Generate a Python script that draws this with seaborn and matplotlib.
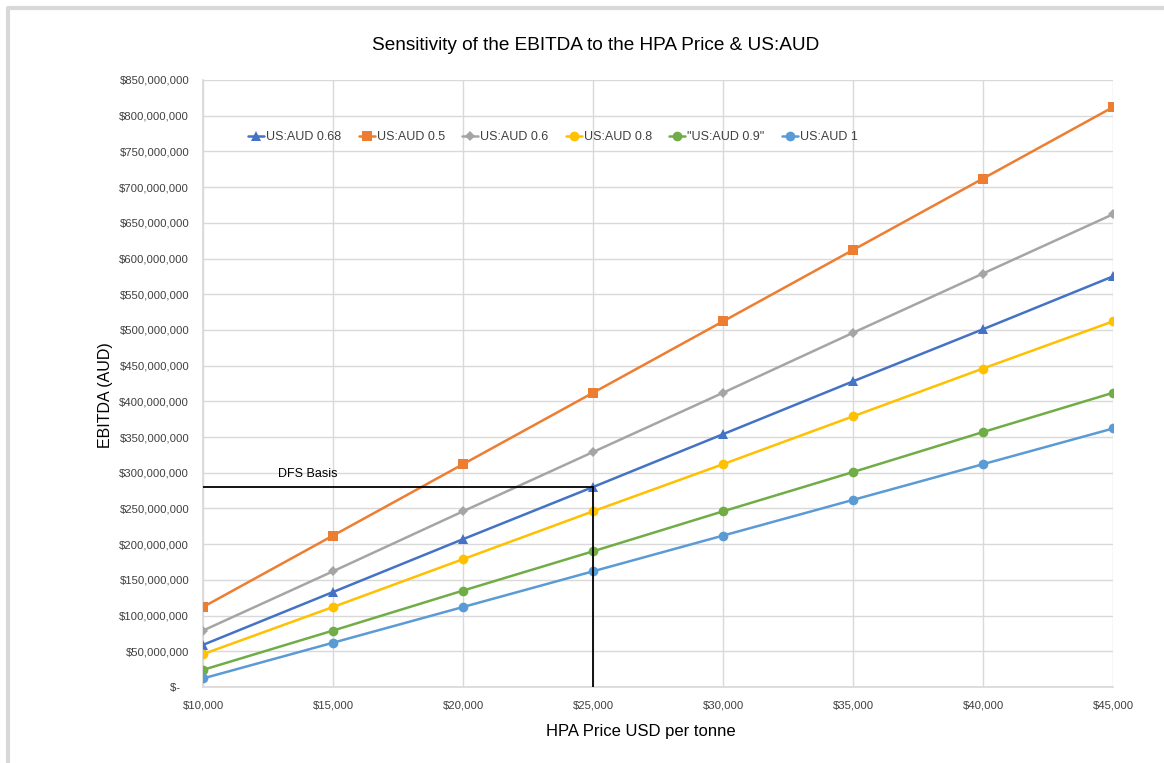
import matplotlib
matplotlib.use("Agg")
import matplotlib.pyplot as plt
import seaborn as sns
import pandas as pd
from matplotlib.ticker import FuncFormatter, MultipleLocator
from matplotlib.lines import Line2D

# ---- data ----
hpa_price = [10000, 15000, 20000, 25000, 30000, 35000, 40000, 45000]
ebitda_068 = [59e6, 133e6, 207e6, 280e6, 354e6, 428e6, 501e6, 575e6]
ebitda_05 = [112e6, 212e6, 312e6, 412e6, 512e6, 612e6, 712e6, 812e6]
ebitda_06 = [79e6, 162e6, 246e6, 329e6, 412e6, 496e6, 579e6, 662e6]
ebitda_08 = [46e6, 112e6, 179e6, 246e6, 312e6, 379e6, 446e6, 512e6]
ebitda_09 = [24e6, 79e6, 135e6, 190e6, 246e6, 301e6, 357e6, 412e6]
ebitda_1 = [12e6, 62e6, 112e6, 162e6, 212e6, 262e6, 312e6, 362e6]
series_names = ["US:AUD 0.68", "US:AUD 0.5", "US:AUD 0.6", "US:AUD 0.8",
                "\"US:AUD 0.9\"", "US:AUD 1"]
dfs_price = 25000
dfs_ebitda = 280e6
dfs_label = "DFS Basis"

series_values = [ebitda_068, ebitda_05, ebitda_06, ebitda_08, ebitda_09, ebitda_1]
colors = ["#4472C4", "#ED7D31", "#A5A5A5", "#FFC000", "#70AD47", "#5B9BD5"]
markers = ["^", "s", "D", "o", "o", "o"]
msizes = [7, 7, 5, 7, 7, 7]

rows = []
for name, vals in zip(series_names, series_values):
    for p, v in zip(hpa_price, vals):
        rows.append({"price": p, "ebitda": v, "series": name})
df = pd.DataFrame(rows)

sns.set_theme(style="white")
plt.rcParams["font.family"] = ["Liberation Sans", "DejaVu Sans"]

fig = plt.figure(figsize=(11.64, 7.63), dpi=100)
ax = fig.add_axes([203 / 1164, 1 - 687 / 763, (1113 - 203) / 1164, (687 - 80) / 763])

for name, c, m, ms in zip(series_names, colors, markers, msizes):
    sub = df[df["series"] == name]
    sns.lineplot(data=sub, x="price", y="ebitda", ax=ax, color=c, marker=m,
                 markersize=ms, markeredgewidth=0, linewidth=1.8, legend=False,
                 zorder=3)

# DFS basis lines
ax.plot([hpa_price[0], dfs_price], [dfs_ebitda, dfs_ebitda], color="black", lw=1.3, zorder=4)
ax.plot([dfs_price, dfs_price], [dfs_ebitda, 0], color="black", lw=1.3, zorder=4)
ax.text(12880, dfs_ebitda + 10e6, dfs_label, fontsize=9, color="black",
        ha="left", va="bottom")

ax.set_xlim(10000, 45000)
ax.set_ylim(0, 850e6)
ax.xaxis.set_major_locator(MultipleLocator(5000))
ax.yaxis.set_major_locator(MultipleLocator(50e6))
ax.xaxis.set_major_formatter(FuncFormatter(lambda v, p: f"${v:,.0f}"))
ax.yaxis.set_major_formatter(FuncFormatter(lambda v, p: "$-   " if v == 0 else f"${v:,.0f}"))
ax.tick_params(axis="both", length=0, labelsize=8.2, labelcolor="#404040")
ax.tick_params(axis="y", pad=10)
ax.tick_params(axis="x", pad=10)
ax.grid(True, color="#D9D9D9", lw=1)
for s in ["top", "right"]:
    ax.spines[s].set_visible(False)
ax.spines["left"].set_color("#D9D9D9")
ax.spines["bottom"].set_color("#D9D9D9")

ax.set_xlabel("HPA Price USD per tonne", fontsize=12, color="black")
ax.set_ylabel("EBITDA (AUD)", fontsize=11.5, color="black")
ax.xaxis.set_label_coords((641 - 203) / 910, (687 - 724) / 607)
ax.yaxis.set_label_coords((113 - 203) / 910, (687 - 395) / 607)

handles = [Line2D([0], [0], color=c, marker=m, markersize=ms, markeredgewidth=0, lw=1.8)
           for c, m, ms in zip(colors, markers, msizes)]
leg = ax.legend(handles, series_names, loc="center left", ncol=6, frameon=False,
                bbox_to_anchor=((248 - 203) / 910, 1 - (137 - 80) / 607), fontsize=9,
                handlelength=1.3, handletextpad=0.15, columnspacing=1.38,
                borderaxespad=0, borderpad=0)
for t in leg.get_texts():
    t.set_color("#404040")

fig.text(596 / 1164, 1 - 45 / 763, "Sensitivity of the EBITDA to the HPA Price & US:AUD",
         ha="center", va="center", fontsize=13.7, color="black")

# chart frame shadow
fig.add_artist(Line2D([10 / 1164, 1], [1 - 8 / 763, 1 - 8 / 763], transform=fig.transFigure,
                      color="#D8D8D8", lw=3))
fig.add_artist(Line2D([8 / 1164, 8 / 1164], [0, 1 - 8 / 763], transform=fig.transFigure,
                      color="#D8D8D8", lw=3))

fig.savefig("out.png", dpi=100, facecolor="white")
